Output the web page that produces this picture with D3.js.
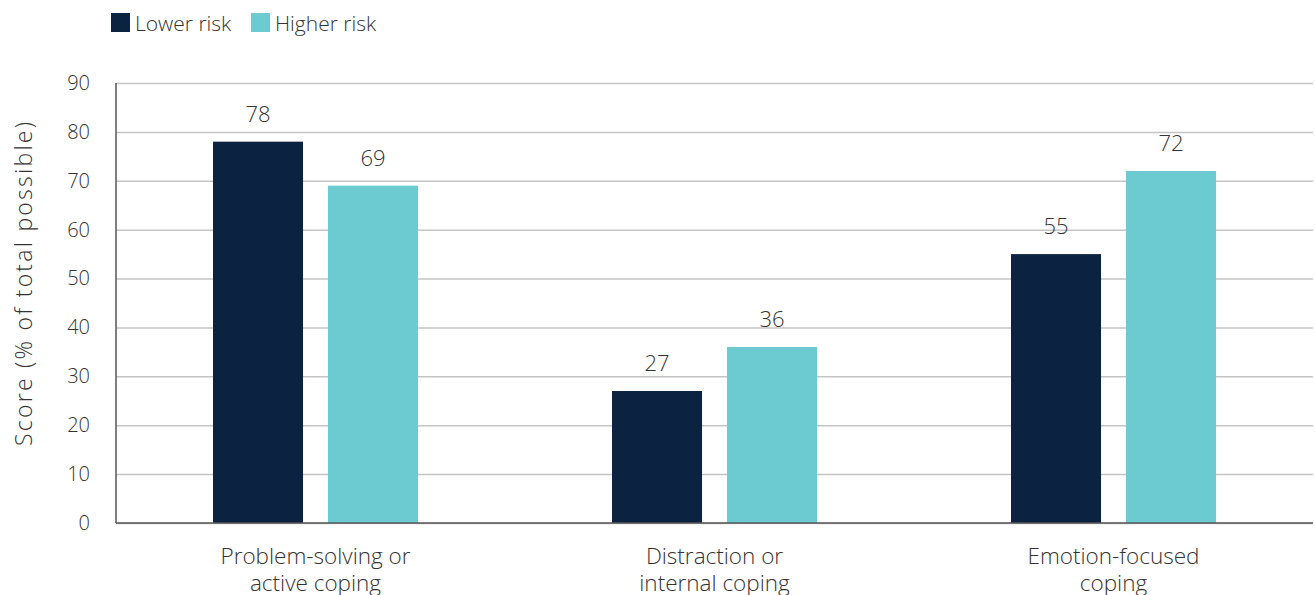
<!DOCTYPE html>
<html>
<head>
<meta charset="utf-8">
<script src="https://cdn.jsdelivr.net/npm/d3@7"></script>
<style>
  body { margin: 0; background: #fff; }
  text { font-family: "Open Sans", sans-serif; font-weight: 300; fill: #333; }
</style>
</head>
<body>
<svg id="chart" width="1315" height="595"></svg>
<script>
// Coping scores by risk group
const categories = [["Problem-solving or", "active coping"], ["Distraction or", "internal coping"], ["Emotion-focused", "coping"]];
const seriesNames = ["Lower risk", "Higher risk"];
const lowerRisk = [78, 27, 55];
const higherRisk = [69, 36, 72];
const yTicks = [0, 10, 20, 30, 40, 50, 60, 70, 80, 90];
const colors = ["#0b2240", "#6ccbd0"];

const svg = d3.select("#chart");
const margin = { left: 116, right: 2, top: 83, bottom: 72 };
const W = 1315, H = 595;
const plotW = W - margin.left - margin.right;
const plotH = H - margin.top - margin.bottom;
const FONT = "'Open Sans', sans-serif";

const g = svg.append("g").attr("transform", `translate(${margin.left},${margin.top})`);

const catIdx = categories.map((d, i) => i);
const x0 = d3.scaleBand().domain(catIdx).range([0, plotW]).padding(0);
const innerW = 205;
const x1 = d3.scaleBand().domain(seriesNames).range([0, innerW]).paddingInner(0.217).paddingOuter(0);
const y = d3.scaleLinear().domain([0, 90]).range([plotH, 0]);

// gridlines
g.append("g")
  .call(d3.axisLeft(y).tickValues(yTicks).tickSize(-plotW).tickFormat(""))
  .call(a => a.select(".domain").remove())
  .call(a => a.selectAll("line").attr("stroke", "#c4c4c4").attr("stroke-width", 1.5));

// y tick labels
g.append("g")
  .call(d3.axisLeft(y).tickValues(yTicks).tickSize(0).tickPadding(26))
  .call(a => a.select(".domain").remove())
  .call(a => a.selectAll("text").attr("font-size", 20).style("fill", "#333")
    .attr("font-family", FONT).attr("font-weight", 300));

const data = catIdx.map(i => [
  { key: seriesNames[0], value: lowerRisk[i], color: colors[0] },
  { key: seriesNames[1], value: higherRisk[i], color: colors[1] }
]);

const offset = (x0.bandwidth() - innerW) / 2;
const groups = g.selectAll(".grp").data(data).join("g")
  .attr("transform", (d, i) => `translate(${x0(i) + offset},0)`);

groups.selectAll("rect").data(d => d).join("rect")
  .attr("x", d => x1(d.key))
  .attr("y", d => y(d.value))
  .attr("width", x1.bandwidth())
  .attr("height", d => plotH - y(d.value))
  .attr("fill", d => d.color);

groups.selectAll(".val").data(d => d).join("text")
  .attr("class", "val")
  .attr("x", d => x1(d.key) + x1.bandwidth() / 2)
  .attr("y", d => y(d.value) - 20)
  .attr("text-anchor", "middle")
  .attr("font-size", 22)
  .text(d => d.value);

// axes lines
g.append("line").attr("x1", 0).attr("x2", 0).attr("y1", 0).attr("y2", plotH)
  .attr("stroke", "#555").attr("stroke-width", 1.5);
g.append("line").attr("x1", 0).attr("x2", plotW).attr("y1", plotH).attr("y2", plotH)
  .attr("stroke", "#555").attr("stroke-width", 1.5);

// category labels
const cat = g.selectAll(".cat").data(categories).join("text")
  .attr("class", "cat")
  .attr("text-anchor", "middle")
  .attr("font-size", 22.5)
  .attr("transform", (d, i) => `translate(${x0(i) + x0.bandwidth() / 2},${plotH + 41})`);
cat.selectAll("tspan").data(d => d).join("tspan")
  .attr("x", 0)
  .attr("dy", (d, i) => i === 0 ? 0 : 27)
  .text(d => d);

// y axis title
svg.append("text")
  .attr("transform", `translate(32,284) rotate(-90)`)
  .attr("text-anchor", "middle")
  .attr("font-size", 23)
  .attr("textLength", 324)
  .attr("lengthAdjust", "spacing")
  .text("Score (% of total possible)");

// legend
const legend = svg.append("g").attr("transform", "translate(111,13)");
const legX = [0, 140];
seriesNames.forEach((name, i) => {
  legend.append("rect").attr("x", legX[i]).attr("y", 0).attr("width", 19).attr("height", 19).attr("fill", colors[i]);
  legend.append("text").attr("x", legX[i] + 24).attr("y", 18).attr("font-size", 21).text(name);
});
</script>
</body>
</html>
